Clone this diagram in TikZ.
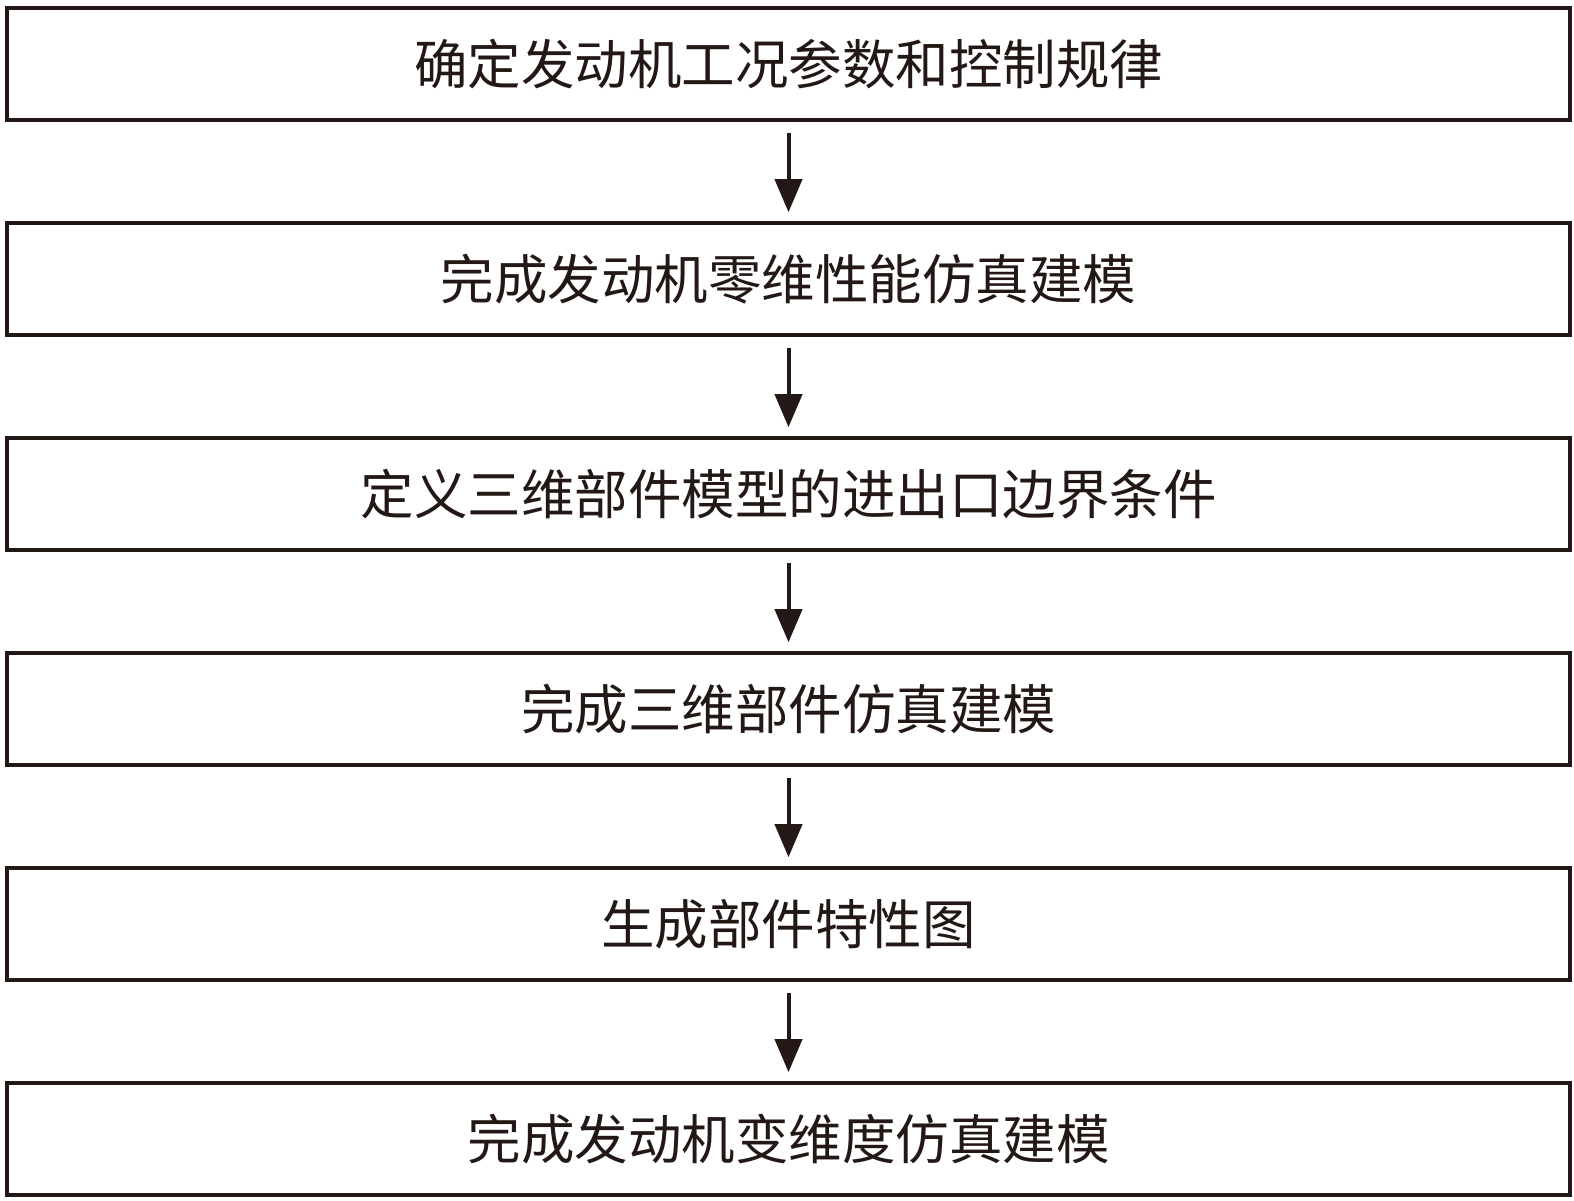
\documentclass[tikz,border=0pt]{standalone}
\usepackage{fontspec}
\newfontfamily\cjk{Noto Sans CJK SC}
\usetikzlibrary{arrows.meta}
\definecolor{ink}{RGB}{35,24,21}
\tikzset{
  stepbox/.style={draw=ink, line width=3.6pt, minimum width=1563pt, minimum height=112pt, inner sep=0pt, font=\cjk\fontsize{53.5}{62}\selectfont, text=ink},
  flowarrow/.style={draw=ink, line width=4pt, -{Triangle[width=27pt,length=33pt]}, shorten <=11pt, shorten >=9pt}
}
\begin{document}
\begin{tikzpicture}[x=1pt,y=-1pt]
\useasboundingbox[fill=white] (0,0) rectangle (1574,1200);
\node[stepbox] (b1) at (788.5,64) {确定发动机工况参数和控制规律};
\node[stepbox] (b2) at (788.5,279) {完成发动机零维性能仿真建模};
\node[stepbox] (b3) at (788.5,494) {定义三维部件模型的进出口边界条件};
\node[stepbox] (b4) at (788.5,709) {完成三维部件仿真建模};
\node[stepbox] (b5) at (788.5,924) {生成部件特性图};
\node[stepbox] (b6) at (788.5,1139) {完成发动机变维度仿真建模};
\draw[flowarrow] (b1.south) -- (b2.north);
\draw[flowarrow] (b2.south) -- (b3.north);
\draw[flowarrow] (b3.south) -- (b4.north);
\draw[flowarrow] (b4.south) -- (b5.north);
\draw[flowarrow] (b5.south) -- (b6.north);
\end{tikzpicture}
\end{document}
